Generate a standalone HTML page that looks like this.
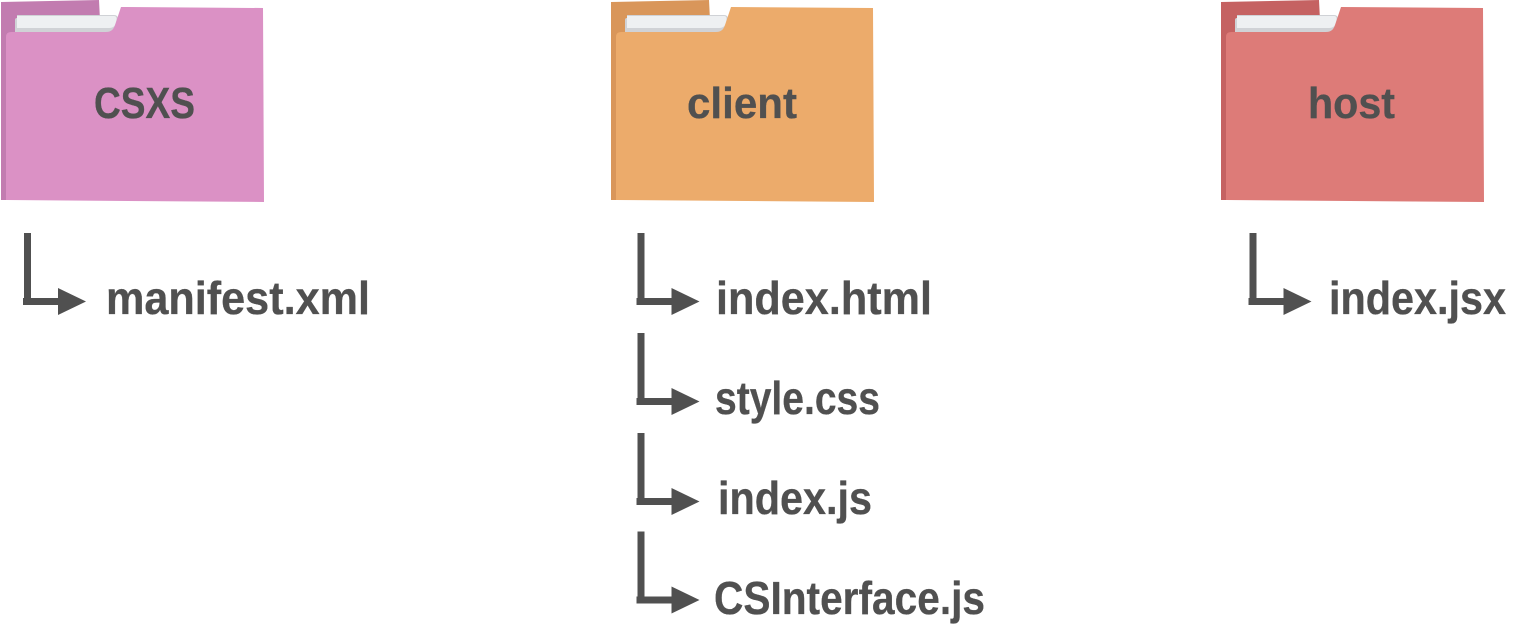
<!DOCTYPE html>
<html><head><meta charset="utf-8"><style>
html,body{margin:0;padding:0;background:#fff}
svg{display:block}
text{font-family:"Liberation Sans",sans-serif;font-weight:700;fill:#505050;font-size:44px;stroke:#505050;stroke-width:.3px}
text.f{font-size:46px}
</style></head><body>
<svg width="1515" height="634" viewBox="0 0 1515 634" xmlns="http://www.w3.org/2000/svg">
<defs>
<g id="paper">
<path d="M15,20Q15,18 17,18V15H114Q118,15 118,19V24Q117,32 110,32H15Z" fill="#d0d2d6"/>
<path d="M17,16H114Q117,16 116.500,20Q116,28 109,28H17Z" fill="#eef0f2"/>
</g>
<path id="front" d="M6,200V37Q6,32 11,32H106Q113,32 115,25L121,7L263,8L264,202Z"/>
<g id="arrow" fill="#505050">
<rect x="24" y="233" width="7" height="70"/>
<rect x="23" y="298" width="38" height="7"/>
<path d="M58,288L86,301.500L58,315Z"/>
</g>
</defs>

<g>
<path d="M1,2L99,0L100,20H20V200H1Z" fill="#c27cb0"/>
<use href="#paper"/>
<use href="#front" fill="#db91c5"/>
</g>
<g transform="translate(610,0)">
<path d="M1,2L99,0L100,20H20V200H1Z" fill="#d9965a"/>
<use href="#paper"/>
<use href="#front" fill="#ecab6b"/>
</g>
<g transform="translate(1220,0)">
<path d="M1,2L99,0L100,20H20V200H1Z" fill="#c56262"/>
<use href="#paper"/>
<use href="#front" fill="#dd7b78"/>
</g>

<text x="94" y="118" textLength="101" lengthAdjust="spacingAndGlyphs">CSXS</text>
<text x="687" y="118" textLength="110" lengthAdjust="spacingAndGlyphs">client</text>
<text x="1308" y="118" textLength="87" lengthAdjust="spacingAndGlyphs">host</text>

<use href="#arrow"/>
<use href="#arrow" x="613.500"/>
<use href="#arrow" x="613.500" y="100"/>
<use href="#arrow" x="613.500" y="200"/>
<use href="#arrow" x="613.500" y="298.500"/>
<use href="#arrow" x="1225.500"/>

<text class="f" x="106" y="314" textLength="264" lengthAdjust="spacingAndGlyphs">manifest.xml</text>
<text class="f" x="716" y="314" textLength="216" lengthAdjust="spacingAndGlyphs">index.html</text>
<text class="f" x="715" y="414" textLength="165" lengthAdjust="spacingAndGlyphs">style.css</text>
<text class="f" x="718" y="514" textLength="154" lengthAdjust="spacingAndGlyphs">index.js</text>
<text class="f" x="714" y="614" textLength="271" lengthAdjust="spacingAndGlyphs">CSInterface.js</text>
<text class="f" x="1329" y="314" textLength="177" lengthAdjust="spacingAndGlyphs">index.jsx</text>
</svg>
</body></html>
